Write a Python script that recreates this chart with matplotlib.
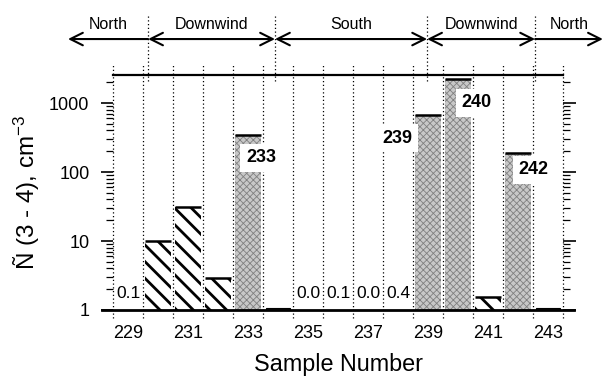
import matplotlib
matplotlib.use("Agg")
import matplotlib.pyplot as plt
import matplotlib.transforms as mtransforms
import numpy as np

plt.rcParams['font.family'] = ['Liberation Sans', 'DejaVu Sans']
plt.rcParams['mathtext.fontset'] = 'custom'
plt.rcParams['mathtext.rm'] = 'Liberation Sans'
plt.rcParams['mathtext.it'] = 'Liberation Sans:italic'

# ---- data ----
hatched_samples = [230, 231, 232, 241]
hatched_values = [10, 31, 2.9, 1.55]
stippled_samples = [233, 239, 240, 242]
stippled_values = [345, 670, 2230, 190]
thin_samples = [234, 243]
thin_values = [1.08, 1.08]
small_label_samples = [229, 235, 236, 237, 238]
small_label_texts = ["0.1", "0.0", "0.1", "0.0", "0.4"]
big_label_samples = [233, 239, 240, 242]
xtick_values = [229, 231, 233, 235, 237, 239, 241, 243]
ytick_values = [1, 10, 100, 1000]
ytick_labels = ["1", "10", "100", "1000"]
region_names = ["North", "Downwind", "South", "Downwind", "North"]
region_bounds = [227.0, 229.67, 233.9, 238.97, 242.57, 244.83]

# ---- layout / style ----
fig = plt.figure(figsize=(6.08, 3.83), dpi=100)
ax = fig.add_axes([113/608, 73/383, 450/608, 235/383])
ax.set_xlim(228.5, 243.5)
ax.set_yscale('log')
ax.set_ylim(1, 2546)

bar_w = 0.88
with plt.rc_context({'hatch.linewidth': 2.0}):
    ax.bar(hatched_samples, np.array(hatched_values) - 1, bottom=1, width=bar_w,
           facecolor='white', edgecolor='black', hatch='\\\\', linewidth=0, zorder=2)
ax.bar(stippled_samples, np.array(stippled_values) - 1, bottom=1, width=bar_w,
       facecolor='#c8c8c8', edgecolor='none', linewidth=0, zorder=2)
with plt.rc_context({'hatch.linewidth': 0.6}):
    ax.bar(stippled_samples, np.array(stippled_values) - 1, bottom=1, width=bar_w,
           facecolor='none', edgecolor='#808080', hatch='xxxxx', linewidth=0, zorder=2)
ax.bar(thin_samples, np.array(thin_values) - 1, bottom=1, width=0.8,
       facecolor='#333333', edgecolor='black', linewidth=0.8, zorder=2)
# solid bar tops
tops_x = hatched_samples + stippled_samples
tops_y = hatched_values + stippled_values
ax.hlines(tops_y, np.array(tops_x) - bar_w/2, np.array(tops_x) + bar_w/2,
          colors='black', linewidth=1.8, zorder=3)

# dotted slot boundaries extending beyond the axes
trans = mtransforms.blended_transform_factory(ax.transData, ax.transAxes)
edges = np.arange(228.5, 244.0, 1.0)
for e in edges:
    ax.plot([e, e], [-0.035, 1.05], transform=trans, color='black', lw=0.9,
            ls=(0, (1, 2)), clip_on=False, zorder=1)

# baseline extending beyond
ax.plot([228.12, 243.88], [0, 0], transform=trans, color='black', lw=2.0,
        clip_on=False, zorder=4)

# spines
for s in ['left', 'right', 'bottom']:
    ax.spines[s].set_visible(False)
ax.spines['top'].set_linewidth(1.6)

# ticks
ax.set_xticks(xtick_values)
ax.set_xticklabels([str(v) for v in xtick_values], fontsize=13)
ax.tick_params(axis='x', length=0, pad=11)
ax.set_yticks(ytick_values)
ax.set_yticklabels(ytick_labels, fontsize=13)
ax.tick_params(axis='y', which='both', direction='out', left=True, right=True,
               labelright=False)
ax.tick_params(axis='y', which='major', length=9, width=1.2, pad=8)
ax.tick_params(axis='y', which='minor', length=5, width=0.9)

ax.set_xlabel("Sample Number", fontsize=16.8, labelpad=8)
ax.set_ylabel("Ñ (3 - 4), cm$^{-3}$", fontsize=17.5)
ax.yaxis.set_label_coords(-0.158, 0.5)

# small value labels
for xs, t in zip(small_label_samples, small_label_texts):
    ax.text(xs, 1.72, t, ha='center', va='center', fontsize=12.5, zorder=5)

# big labels near bar tops
big_dx = [0.43, -1.03, 0.63, 0.5]
big_dy_px = [23, 23, 24, 17]
for xs, dx, dy in zip(big_label_samples, big_dx, big_dy_px):
    v = dict(zip(stippled_samples, stippled_values))[xs]
    ax.annotate(str(xs), xy=(xs + dx, v), xytext=(0, -dy * 0.72),
                textcoords='offset points', ha='center', va='center',
                fontsize=13, fontweight='bold', zorder=6,
                bbox=dict(boxstyle='square,pad=0.3', facecolor='white', edgecolor='none'))

# region arrows and separators
arrow_y = 1.153
label_y = 1.217
for sep in region_bounds[1:-1]:
    ax.plot([sep, sep], [0.975, 1.25], transform=trans, color='black', lw=0.9,
            ls=(0, (1, 2)), clip_on=False, zorder=1)
n = len(region_names)
for i, name in enumerate(region_names):
    x0, x1 = region_bounds[i], region_bounds[i + 1]
    if i == 0:
        style = '<-'
    elif i == n - 1:
        style = '->'
    else:
        style = '<->'
    ax.annotate('', xy=(x1, arrow_y), xytext=(x0, arrow_y), xycoords=trans,
                textcoords=trans,
                arrowprops=dict(arrowstyle=style + ',head_length=0.9,head_width=0.45',
                                lw=1.5, color='black', shrinkA=0, shrinkB=0),
                annotation_clip=False)
    ax.text((x0 + x1) / 2, label_y, name, transform=trans, ha='center', va='center',
            fontsize=11.5)

fig.savefig("out.png", dpi=100)
